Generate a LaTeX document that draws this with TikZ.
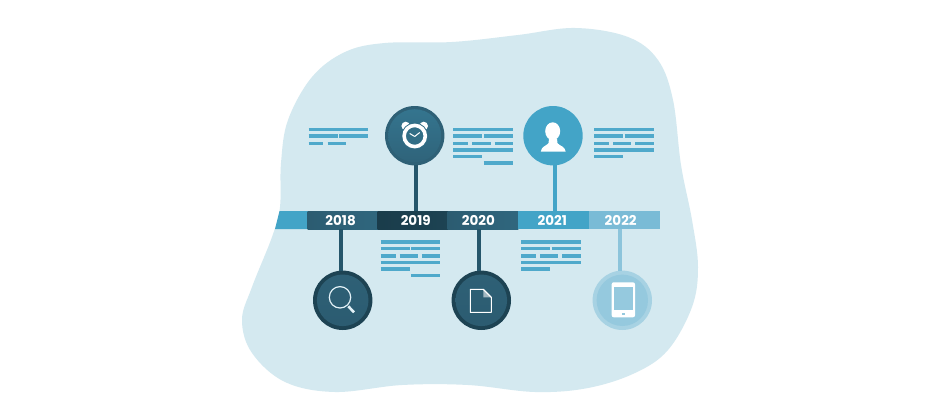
\documentclass[tikz,border=0pt]{standalone}
\usepackage{fontspec}
\setmainfont{Poppins}
\definecolor{blobbg}{HTML}{D4E9F0}
\definecolor{leadbar}{HTML}{43A4C7}
\definecolor{darkbar}{HTML}{1D4353}
\definecolor{midbar}{HTML}{2E6076}
\definecolor{palebar}{HTML}{7ABBD6}
\definecolor{infoblue}{HTML}{4FA9CB}
\definecolor{stem}{HTML}{25566B}
\tikzset{
  yearbar/.style={minimum width=70.6pt, minimum height=18pt, inner sep=0pt},
  yearlabel/.style={inner sep=0pt, text=white, font=\bfseries\fontsize{13.5}{13.5}\selectfont},
  midshade/.style={left color=midbar!85!darkbar, right color=midbar!90!leadbar},
  darkshade/.style={left color=darkbar!90!black, right color=darkbar},
  bigdot/.style={circle, minimum size=59.4pt, inner sep=0pt},
  stemline/.style={line width=3.8pt},
  infoline/.style={draw=infoblue, line width=3.5pt},
  icon/.style={draw=white, line width=1.1pt, line join=round}
}
\newcommand{\infolines}[3]{%
  \begin{scope}[shift={(#1, #2)}]
    \draw [infoline] (0, 0) -- (59.5, 0);
    \draw [infoline] (0, 6.3) -- (29, 6.3);
    \draw [infoline] (30.6, 6.3) -- (59.5, 6.3);
    #3
  \end{scope}}
\newcommand{\longlines}{%
    \draw [infoline] (0, 14) -- (15, 14);
    \draw [infoline] (19, 14) -- (37.4, 14);
    \draw [infoline] (41.4, 14) -- (59.5, 14);
    \draw [infoline] (0, 20.5) -- (59.5, 20.5);
    \draw [infoline] (0, 26.8) -- (29, 26.8);}

\begin{document}
\begin{tikzpicture}[x=1pt, y=-1pt]
\useasboundingbox (0, 0) rectangle (940, 420);
\fill [white] (0, 0) rectangle (940, 420);
% background blob
\fill [blobbg] plot [smooth cycle, tension=0.6] coordinates {
  (575, 28) (628, 37) (658, 60) (673, 100) (681, 165) (692, 220) (698, 267)
  (692, 307) (668, 350) (635, 373) (588, 388) (535, 392) (468, 385) (402, 385)
  (335, 392) (285, 382) (252, 353) (242, 320) (252, 287) (272, 237) (280, 207)
  (281, 163) (288, 120) (312, 77) (345, 52) (385, 43) (452, 42) (518, 35)};

% timeline
\fill [leadbar] (279.5, 211) -- (308, 211) -- (308, 229) -- (275, 229) -- cycle;
\node [yearbar, midshade] (y2018) at (342.9, 220) {};
\node [yearbar, darkshade] (y2019) at (413, 220) {};
\node [yearbar, midshade] (y2020) at (483, 220) {};
\node [yearbar, fill=leadbar] (y2021) at (553.5, 220) {};
\node [yearbar, fill=palebar] (y2022) at (624.2, 220) {};

% circles on top
\node [bigdot, fill=midbar] (c2019) at (414.7, 135.7) {};
\node [bigdot, fill=leadbar] (c2021) at (553, 135.7) {};
\node [bigdot, fill=darkbar] (c2018) at (342.7, 300.3) {};
\node [bigdot, fill=darkbar] (c2020) at (481.3, 300.3) {};
\node [bigdot, fill=palebar!50!blobbg] (c2022) at (622.3, 300.3) {};
\shade [top color=midbar!70!leadbar, bottom color=midbar!95!leadbar] (c2019) circle (26.5);
\shade [top color=midbar, bottom color=midbar!85!darkbar] (c2018) circle (25.8);
\shade [top color=midbar, bottom color=midbar!85!darkbar] (c2020) circle (25.8);
\fill [palebar!70!blobbg] (c2022) circle (25.7);

% connectors
\draw [stem, stemline] (c2019) ++(1.3, 29.5) coordinate (t19) -- (t19 |- y2019.north);
\draw [leadbar, stemline] (c2021) ++(2, 29.5) coordinate (t21) -- (t21 |- y2021.north);
\draw [stem, stemline] (c2018) ++(-2, -29.5) coordinate (t18) -- (t18 |- y2018.south);
\draw [stem, stemline] (c2020) ++(-2, -29.5) coordinate (t20) -- (t20 |- y2020.south);
\draw [palebar!80!blobbg, stemline] (c2022) ++(-2, -29.5) coordinate (t22) -- (t22 |- y2022.south);

% year labels
\node [yearlabel] (l2018) at (340.6, 220.3) {2018};
\node [yearlabel] (l2019) at (415.7, 220.3) {2019};
\node [yearlabel] (l2020) at (478.3, 220.3) {2020};
\node [yearlabel] (l2021) at (552.3, 220.3) {2021};
\node [yearlabel] (l2022) at (620.7, 220.3) {2022};

% text blocks
\infolines{308.7}{129.7}{\draw [infoline] (0, 14) -- (14.6, 14); \draw [infoline] (19, 14) -- (37.3, 14);}
\infolines{453.3}{129.7}{\longlines \draw [infoline] (30.4, 33.3) -- (59.5, 33.3);}
\infolines{594}{129.7}{\longlines}
\infolines{380.5}{242}{\longlines \draw [infoline] (30.4, 33.3) -- (59.5, 33.3);}
\infolines{521}{242}{\longlines}

% clock
\begin{scope}[shift={(c2019.center)}]
\fill [white] (-9, -9.7) circle (4.3);
\fill [white] (9, -9.7) circle (4.3);
\fill [midbar!80!leadbar] (0, 0.3) circle (13.4);
\draw [white, line width=3.6pt] (0, 0.3) circle (10.6);
\draw [white, line width=1pt] (0, 0.8) -- (5, -3.2);
\draw [white, line width=1pt] (0, 0.8) -- (-5, -2.2);
\end{scope}
% person
\begin{scope}[shift={(c2021.center)}]
\fill [white] (-12.2, 16) .. controls (-11.5, 10.5) and (-7, 10.5) .. (-4.5, 7.5) -- (-4, 3) -- (4, 3) -- (4.5, 7.5) .. controls (7, 10.5) and (12, 10.5) .. (12.7, 16) -- cycle;
\fill [white] (-0.3, -4.5) ellipse (7.5 and 8.9);
\end{scope}
% magnifier
\begin{scope}[shift={(c2018.center)}]
\draw [white!85!leadbar, line width=1.2pt] (-2.7, -3) circle (10.7);
\draw [white!85!leadbar, line width=2.6pt] (5.6, 6) -- (11.3, 12);
\end{scope}
% page
\begin{scope}[shift={(c2020.center)}]
\fill [white!55!midbar] (2, -11) -- (10, -3) -- (2, -3) -- cycle;
\draw [icon] (-11, -11) -- (2, -11) -- (10, -3) -- (10, 12) -- (-11, 12) -- cycle;
\end{scope}
% tablet
\begin{scope}[shift={(c2022.center)}]
\fill [white, rounded corners=2pt] (-10.6, -18) rectangle (12.7, 17);
\fill [palebar!70!blobbg] (-8.3, -13.3) rectangle (10.4, 10);
\fill [palebar!70!blobbg] (-0.2, 12.2) rectangle (2.2, 14.6);
\end{scope}
\end{tikzpicture}
\end{document}
